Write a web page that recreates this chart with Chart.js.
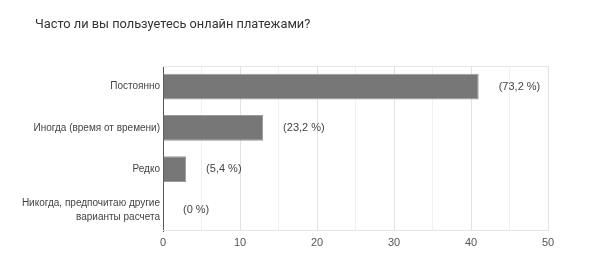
<!DOCTYPE html>
<html><head><meta charset="utf-8">
<script src="https://cdn.jsdelivr.net/npm/chart.js@4/dist/chart.umd.min.js"></script>
<style>html,body{margin:0;padding:0;background:#fff}#wrap{width:591px;height:263px;position:relative}</style>
</head><body>
<div id="wrap"><canvas id="c"></canvas></div>
<script>
const titleText = 'Часто ли вы пользуетесь онлайн платежами?';
const categories = ['Постоянно', 'Иногда (время от времени)', 'Редко', ['Никогда, предпочитаю другие', 'варианты расчета']];
const counts = [41, 13, 3, 0];
const percentLabels = ['(73,2 %)', '(23,2 %)', '(5,4 %)', '(0 %)'];
const xTicks = [0, 10, 20, 30, 40, 50];

const FONT = '"Liberation Sans", Arial, sans-serif';
const TFONT = 'Roboto, Arial, sans-serif';

const deco = {
  id: 'deco',
  afterDraw(chart) {
    const ctx = chart.ctx, x = chart.scales.x, y = chart.scales.y, a = chart.chartArea;
    ctx.save();
    ctx.fillStyle = '#333';
    ctx.font = '12.8px ' + TFONT;
    ctx.textBaseline = 'middle';
    ctx.textAlign = 'left';
    ctx.fillText(titleText, 35, 25);
    ctx.strokeStyle = '#e6e6e6';
    ctx.lineWidth = 1;
    ctx.beginPath();
    ctx.moveTo(a.left, a.top + 0.5); ctx.lineTo(a.right, a.top + 0.5);
    ctx.moveTo(a.left, a.bottom - 0.5); ctx.lineTo(a.right, a.bottom - 0.5);
    ctx.stroke();
    ctx.fillStyle = '#444';
    ctx.font = '11px ' + FONT;
    counts.forEach((v, i) => {
      ctx.fillText(percentLabels[i], x.getPixelForValue(v) + 20, y.getPixelForValue(i));
    });
    ctx.restore();
  }
};

new Chart(document.getElementById('c'), {
  type: 'bar',
  data: {
    labels: categories,
    datasets: [{
      data: counts,
      backgroundColor: '#777777',
      borderColor: '#9a9a9a',
      borderWidth: 1,
      barPercentage: 0.62,
      categoryPercentage: 1
    }]
  },
  options: {
    indexAxis: 'y',
    responsive: true,
    maintainAspectRatio: false,
    animation: false,
    layout: { padding: { top: 66, right: 43, left: 0, bottom: 0 } },
    plugins: { legend: { display: false }, tooltip: { enabled: false } },
    scales: {
      x: {
        min: 0, max: 50,
        afterFit(s) { s.height = 32; },
        ticks: {
          stepSize: 5,
          color: '#555',
          font: { family: FONT, size: 11 },
          padding: 5,
          autoSkip: false,
          maxRotation: 0,
          callback: v => xTicks.includes(v) ? String(v) : ''
        },
        grid: {
          drawTicks: false,
          color: c => (c.tick && c.tick.value % 10 === 0) ? '#e2e2e2' : '#f0f0f0'
        },
        border: { display: false }
      },
      y: {
        afterFit(s) { s.width = 163; },
        ticks: {
          color: '#444',
          font: { family: FONT, size: 10, lineHeight: 1.4 },
          padding: 3
        },
        grid: { display: false, drawTicks: false },
        border: { display: true, color: '#555', width: 1 }
      }
    }
  },
  plugins: [deco]
});
</script>
</body></html>
